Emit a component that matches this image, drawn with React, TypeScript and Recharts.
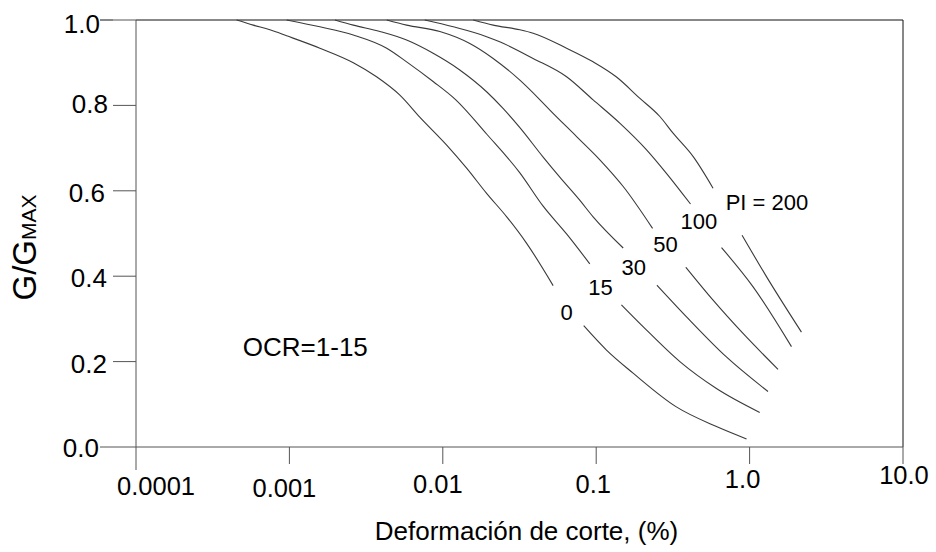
import React from 'react';
import { LineChart, Line, XAxis, YAxis, ReferenceLine, ReferenceDot } from 'recharts';

// ---- axis ticks ----
const xTicks = [0.0001, 0.001, 0.01, 0.1, 1, 10];
const xTickLabels = ['0.0001', '0.001', '0.01', '0.1', '1.0', '10.0'];
const yTicks = [0, 0.2, 0.4, 0.6, 0.8, 1];
const yTickLabels = ['0.0', '0.2', '0.4', '0.6', '0.8', '1.0'];

// ---- curves: [shear strain %, G/Gmax], each split in two segments around its label ----
const pi0Upper = [
  [0.000453, 1.0], [0.000581, 0.988], [0.000746, 0.977], [0.000959, 0.963], [0.00158, 0.934],
  [0.00261, 0.9], [0.0037, 0.867], [0.00525, 0.824], [0.0071, 0.772], [0.0106, 0.707],
  [0.0143, 0.653], [0.0193, 0.594], [0.0261, 0.539], [0.0352, 0.477], [0.0524, 0.378],
];
const pi0Lower = [
  [0.0829, 0.284], [0.1167, 0.227], [0.174, 0.173], [0.333, 0.094], [0.608, 0.048], [0.955, 0.019],
];
const pi15Upper = [
  [0.000959, 1.0], [0.00158, 0.984], [0.00261, 0.965], [0.00431, 0.934], [0.00581, 0.902],
  [0.00865, 0.856], [0.01216, 0.813], [0.0193, 0.733], [0.0318, 0.642],
  [0.0451, 0.564], [0.0641, 0.499], [0.0908, 0.429],
];
const pi15Lower = [
  [0.146, 0.333], [0.202, 0.282], [0.351, 0.2], [0.608, 0.137], [1.164, 0.081],
];
const pi30Upper = [
  [0.00198, 1.0], [0.00261, 0.988], [0.00389, 0.973], [0.00581, 0.953], [0.00865, 0.922],
  [0.0129, 0.883], [0.0193, 0.832], [0.0247, 0.793], [0.0318, 0.748], [0.0451, 0.679],
  [0.0579, 0.632], [0.0781, 0.578], [0.0955, 0.539], [0.15, 0.466],
];
const pi30Lower = [
  [0.249, 0.379], [0.388, 0.305], [0.706, 0.211], [1.318, 0.13],
];
const pi50Upper = [
  [0.00431, 1.0], [0.00581, 0.988], [0.00957, 0.973], [0.015, 0.945], [0.0213, 0.91],
  [0.0318, 0.859], [0.043, 0.813], [0.0499, 0.789], [0.0745, 0.727], [0.106, 0.672],
  [0.15, 0.61], [0.233, 0.512],
];
const pi50Lower = [
  [0.384, 0.421], [0.578, 0.344], [0.906, 0.266], [1.532, 0.182],
];
const pi100Upper = [
  [0.00763, 1.0], [0.0117, 0.984], [0.0193, 0.961], [0.0235, 0.949], [0.0388, 0.91],
  [0.0641, 0.867], [0.0955, 0.813], [0.143, 0.758], [0.213, 0.696], [0.287, 0.641], [0.412, 0.569],
];
const pi100Lower = [
  [0.656, 0.467], [1.054, 0.375], [1.875, 0.235],
];
const pi200Upper = [
  [0.0158, 1.0], [0.0213, 0.988], [0.0318, 0.977], [0.0388, 0.969], [0.0641, 0.934],
  [0.0955, 0.902], [0.135, 0.867], [0.192, 0.817], [0.26, 0.774], [0.317, 0.735],
  [0.429, 0.68], [0.578, 0.606],
];
const pi200Lower = [
  [0.893, 0.496], [1.288, 0.399], [2.178, 0.269],
];

// ---- curve annotations ----
const curveLabels = ['0', '15', '30', '50', '100', 'PI = 200'];
const curveLabelX = [0.0641, 0.1067, 0.176, 0.283, 0.467, 1.297];
const curveLabelY = [0.317, 0.375, 0.421, 0.475, 0.53, 0.574];
const noteText = 'OCR=1-15';
const noteX = 0.00127;
const noteY = 0.235;

const segments = [pi0Upper, pi0Lower, pi15Upper, pi15Lower, pi30Upper, pi30Lower,
  pi50Upper, pi50Lower, pi100Upper, pi100Lower, pi200Upper, pi200Lower];
const toRows = (pts: number[][]) => pts.map(([x, y]) => ({ x, y }));

const FONT = '"Liberation Sans", Arial, Helvetica, sans-serif';
const AXIS = '#555';
const CURVE = '#3a3a3a';

const xLabelDx = [20, -5, -5, -3, -7, 1];
const xLabelDy = [31, 33, 29, 29, 24, 20];
const XTick = (props: any) => {
  const { x, y, index } = props;
  return (
    <g>
      {index === 0 && <line x1={x} x2={x} y1={y} y2={y + 6} stroke={AXIS} strokeWidth={1} />}
      <text x={x + xLabelDx[index]} y={y + xLabelDy[index]} textAnchor="middle"
        fontFamily={FONT} fontSize={25.5} fill="#000">{xTickLabels[index]}</text>
    </g>
  );
};

const yLabelGap = [14, 6, 6, 8, 5, 13];
const yLabelDy = [10, 11, 11, 11, 8, 13];
const YTick = (props: any) => {
  const { x, y, index } = props;
  const ext = index === 0 || index === yTicks.length - 1;
  return (
    <g>
      {ext && <line x1={x - 13} x2={x} y1={y} y2={y} stroke={index === 0 ? AXIS : '#111'} strokeWidth={1} />}
      <text x={x - yLabelGap[index]} y={y + yLabelDy[index]} textAnchor="end"
        fontFamily={FONT} fontSize={26} fill="#000">{yTickLabels[index]}</text>
    </g>
  );
};

const YTitle = (props: any) => {
  const vb = props.viewBox || { x: 0, y: 20, width: 136, height: 427 };
  const cx = vb.x + 36;
  const cy = vb.y + vb.height / 2 + 14;
  return (
    <text x={cx} y={cy} transform={`rotate(-90 ${cx} ${cy})`} textAnchor="middle"
      fontFamily={FONT} fill="#000">
      <tspan fontSize={33}>G/G</tspan>
      <tspan fontSize={21}>MAX</tspan>
    </text>
  );
};

const XTitle = (props: any) => {
  const vb = props.viewBox || { x: 136, y: 447, width: 767, height: 105 };
  return (
    <text x={vb.x + vb.width / 2 + 7} y={vb.y + 92.5} textAnchor="middle"
      fontFamily={FONT} fontSize={26} fill="#000">Deformación de corte, (%)</text>
  );
};

const makeTextShape = (txt: string, size: number) => (p: any) => (
  <text x={p.cx} y={p.cy} dy={size * 0.36} textAnchor="middle" fontFamily={FONT}
    fontSize={size} fill="#000">{txt}</text>
);

export default function App() {
  return (
    <div style={{ position: 'absolute', left: 0, top: 0, width: 936, height: 552, background: '#fff' }}>
      <LineChart width={936} height={552} margin={{ top: 20, right: 33, left: 0, bottom: 0 }}>
        <XAxis dataKey="x" type="number" scale="log" domain={[0.0001, 10]} ticks={xTicks}
          allowDataOverflow height={105} tickSize={17} tickMargin={0}
          stroke={AXIS} tickLine={{ stroke: AXIS }} tick={<XTick />} interval={0}
          label={<XTitle />} />
        <YAxis dataKey="y" type="number" domain={[0, 1]} ticks={yTicks} width={136}
          tickSize={23} tickMargin={0} stroke={AXIS} tickLine={{ stroke: AXIS }}
          tick={<YTick />} interval={0} label={<YTitle />} />
        <ReferenceLine y={1} stroke="#111" strokeWidth={1} />
        <ReferenceLine x={10} stroke="#111" strokeWidth={1} />
        {segments.map((seg, i) => (
          <Line key={i} data={toRows(seg)} dataKey="y" type="monotone" stroke={CURVE}
            strokeWidth={1.1} dot={false} activeDot={false} isAnimationActive={false} />
        ))}
        {curveLabels.map((t, i) => (
          <ReferenceDot key={t} x={curveLabelX[i]} y={curveLabelY[i]} r={0}
            shape={makeTextShape(t, 22)} />
        ))}
        <ReferenceDot x={noteX} y={noteY} r={0} shape={makeTextShape(noteText, 26)} />
      </LineChart>
    </div>
  );
}
